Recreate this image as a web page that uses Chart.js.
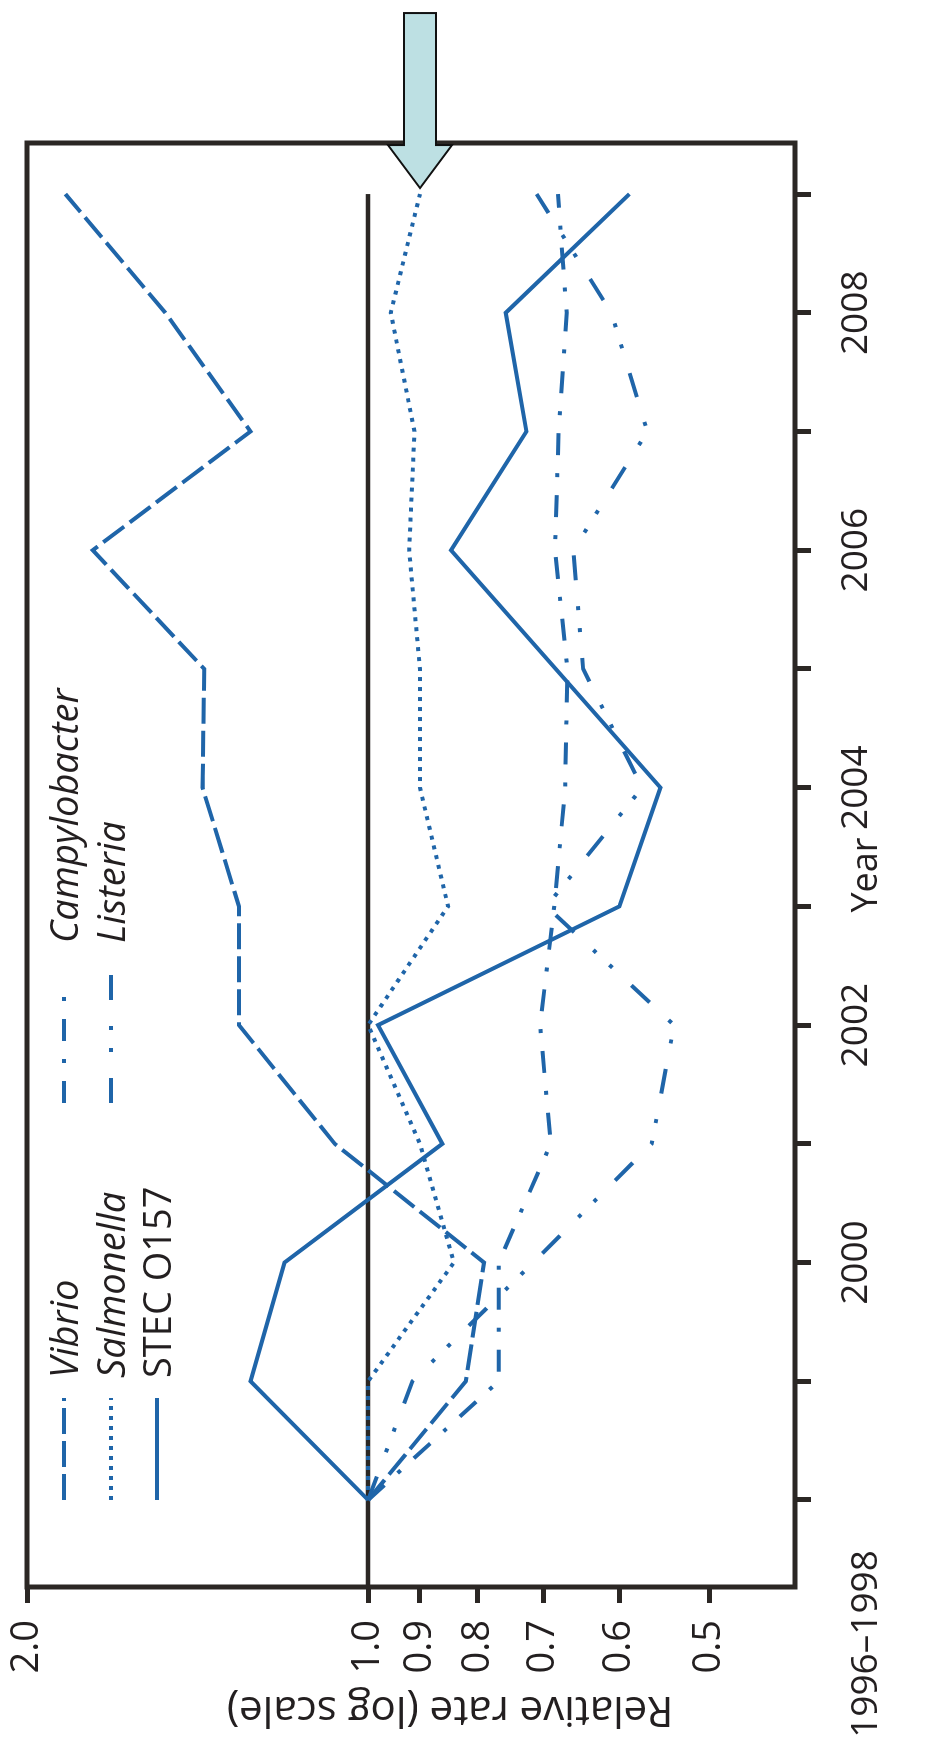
<!DOCTYPE html>
<html>
<head>
<meta charset="utf-8">
<script src="https://cdn.jsdelivr.net/npm/chart.js@4.4.1/dist/chart.umd.min.js"></script>
<style>
    html, body { margin: 0; padding: 0; background: #fff; }
    body { width: 930px; height: 1743px; overflow: hidden; position: relative; }
    /* the chart is drawn landscape and turned a quarter turn to the left */
    #wrap {
        position: absolute; left: 0; top: 0;
        width: 1743px; height: 930px;
        transform-origin: 0 0;
        transform: translate(0px, 1743px) rotate(-90deg);
    }
</style>
</head>
<body>
<div id="wrap"><canvas id="myChart" width="1743" height="930"></canvas></div>
<script>
const years = [1998, 1999, 2000, 2001, 2002, 2003, 2004, 2005, 2006, 2007, 2008, 2009];

const vibrio        = [1.00, 0.82, 0.79, 1.07, 1.30, 1.30, 1.40, 1.395, 1.75, 1.27, 1.51, 1.85];
const salmonella    = [1.00, 1.00, 0.84, 0.90, 1.00, 0.85, 0.90, 0.90, 0.92, 0.91, 0.955, 0.90];
const stec          = [1.00, 1.27, 1.185, 0.86, 0.98, 0.60, 0.552, 0.683, 0.845, 0.725, 0.756, 0.588];
const campylobacter = [1.00, 0.767, 0.767, 0.69, 0.705, 0.685, 0.67, 0.667, 0.684, 0.679, 0.668, 0.68];
const listeria      = [1.00, 0.914, 0.715, 0.562, 0.537, 0.696, 0.573, 0.646, 0.659, 0.567, 0.61, 0.71];

const rateTicks = [2.0, 1.0, 0.9, 0.8, 0.7, 0.6, 0.5];
const yearLabels = { 2000: '2000', 2002: '2002', 2004: '2004', 2006: '2006', 2008: '2008' };
const firstYearLabel = '1996\u20131998';

const blue = '#1f65a9';
const ink = '#2b2724';
const textInk = '#231f20';
const fontFamily = '"Open Sans", "Noto Sans", sans-serif';

const toPoints = (vals) => vals.map((v, i) => ({ x: years[i], y: v }));

function lineSet(label, vals, dash, italic) {
    return {
        label: label,
        data: toPoints(vals),
        borderColor: blue,
        borderWidth: 4,
        borderDash: dash,
        borderCapStyle: 'butt',
        borderJoinStyle: 'miter',
        pointRadius: 0,
        fill: false,
        tension: 0,
        italic: italic
    };
}

const datasets = [
    lineSet('Vibrio', vibrio, [26, 7], true),
    lineSet('Salmonella', salmonella, [4, 6], true),
    lineSet('STEC O157', stec, [], false),
    lineSet('Campylobacter', campylobacter, [22, 18, 4, 18], true),
    lineSet('Listeria', listeria, [25, 26, 4, 18, 4, 26], true)
];

// legend slots: [dataset index, sample start, sample end, text x, row y]
const legendSlots = [
    [0, 243, 345, 365, 64],
    [1, 243, 345, 365, 111],
    [2, 243, 345, 365, 157],
    [3, 640, 760, 800, 64],
    [4, 640, 776, 800, 111]
];

const extras = {
    id: 'extras',
    beforeDatasetsDraw(chart) {
        const { ctx, chartArea: a, scales: { x, y } } = chart;
        const y1 = y.getPixelForValue(1);
        ctx.save();
        ctx.strokeStyle = ink;
        ctx.lineWidth = 4.5;
        ctx.beginPath();
        ctx.moveTo(a.left, y1);
        ctx.lineTo(x.getPixelForValue(years[years.length - 1]), y1);
        ctx.stroke();
        ctx.restore();
    },
    afterDraw(chart) {
        const { ctx, chartArea: a, scales: { x, y } } = chart;
        ctx.save();

        // frame
        ctx.strokeStyle = ink;
        ctx.lineWidth = 5;
        ctx.strokeRect(a.left, a.top, a.right - a.left, a.bottom - a.top);

        // legend
        legendSlots.forEach(([di, s0, s1, tx, ry]) => {
            const ds = chart.data.datasets[di];
            ctx.strokeStyle = ds.borderColor;
            ctx.lineWidth = ds.borderWidth;
            ctx.lineCap = 'butt';
            ctx.setLineDash(ds.borderDash);
            ctx.beginPath();
            ctx.moveTo(s0, ry);
            ctx.lineTo(s1, ry);
            ctx.stroke();
            ctx.setLineDash([]);
            ctx.fillStyle = textInk;
            ctx.font = (ds.italic ? 'italic ' : '') + '38px ' + fontFamily;
            ctx.textAlign = 'left';
            ctx.textBaseline = 'alphabetic';
            ctx.fillText(ds.label, tx, ry + 14);
        });

        // axis texts
        ctx.fillStyle = textInk;
        ctx.font = '36px ' + fontFamily;
        ctx.textAlign = 'center';
        ctx.textBaseline = 'alphabetic';
        ctx.fillText('Year', (a.left + a.right) / 2 - 10, 877);
        ctx.font = '37px ' + fontFamily;
        ctx.fillText(firstYearLabel, x.getPixelForValue(years[0]) - 144, 877);

        ctx.save();
        ctx.translate(46, 450);
        ctx.rotate(-Math.PI / 2);
        ctx.font = '42px ' + fontFamily;
        ctx.fillText('Relative rate (log scale)', 0, 0);
        ctx.restore();

        // arrow pointing at the last Salmonella value
        const tx = x.getPixelForValue(years[years.length - 1]) + 6;
        const ty = y.getPixelForValue(salmonella[salmonella.length - 1]);
        ctx.beginPath();
        ctx.moveTo(tx, ty);
        ctx.lineTo(tx + 43, ty - 32);
        ctx.lineTo(tx + 43, ty - 16);
        ctx.lineTo(tx + 175, ty - 16);
        ctx.lineTo(tx + 175, ty + 16);
        ctx.lineTo(tx + 43, ty + 16);
        ctx.lineTo(tx + 43, ty + 32);
        ctx.closePath();
        ctx.fillStyle = '#bde0e3';
        ctx.fill();
        ctx.strokeStyle = '#111';
        ctx.lineWidth = 2;
        ctx.lineJoin = 'miter';
        ctx.stroke();

        ctx.restore();
    }
};

const ctx = document.getElementById('myChart').getContext('2d');
const myChart = new Chart(ctx, {
    type: 'line',
    data: { datasets: datasets },
    options: {
        responsive: false,
        animation: false,
        devicePixelRatio: 1,
        layout: { padding: { left: 0, top: 27, right: 143, bottom: 0 } },
        plugins: {
            legend: { display: false },
            tooltip: { enabled: false }
        },
        scales: {
            x: {
                type: 'linear',
                min: 1997.267,
                max: 2009.43,
                afterBuildTicks: (scale) => { scale.ticks = years.map(v => ({ value: v })); },
                afterFit: (scale) => {
                    scale.height = 135;
                    scale.paddingLeft = 0;
                    scale.paddingRight = 0;
                },
                ticks: {
                    autoSkip: false,
                    maxRotation: 0,
                    padding: 23,
                    color: textInk,
                    font: { family: fontFamily, size: 37 },
                    callback: (v) => yearLabels[v] || ''
                },
                grid: {
                    drawOnChartArea: false,
                    drawTicks: true,
                    tickLength: 16,
                    tickColor: ink,
                    tickWidth: 5
                },
                border: { display: false }
            },
            y: {
                type: 'logarithmic',
                min: 0.42,
                max: 2.0,
                afterBuildTicks: (scale) => { scale.ticks = rateTicks.map(v => ({ value: v })); },
                afterFit: (scale) => {
                    scale.width = 156;
                    scale.paddingTop = 0;
                    scale.paddingBottom = 0;
                },
                ticks: {
                    autoSkip: false,
                    padding: 17,
                    color: textInk,
                    font: { family: fontFamily, size: 38 },
                    callback: (v) => Number(v).toFixed(1)
                },
                grid: {
                    drawOnChartArea: false,
                    drawTicks: true,
                    tickLength: 16,
                    tickColor: ink,
                    tickWidth: 5
                },
                border: { display: false }
            }
        }
    },
    plugins: [extras]
});
</script>
</body>
</html>
